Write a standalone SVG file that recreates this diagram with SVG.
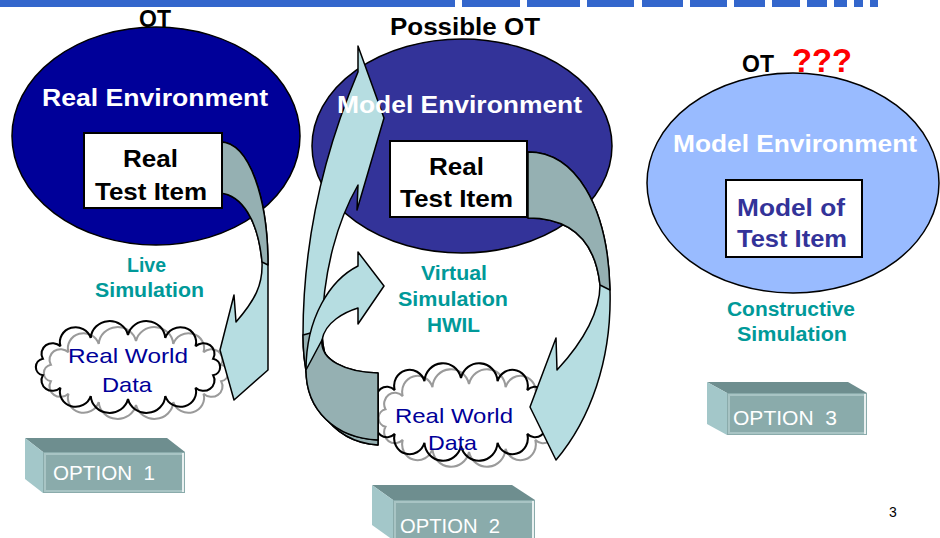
<svg xmlns="http://www.w3.org/2000/svg" width="940" height="538" viewBox="0 0 940 538">
<defs>
<style>
text{font-family:"Liberation Sans",Arial,sans-serif}
.env{fill:#fff;font-size:24px;font-weight:bold}
.ot{fill:#000;font-size:23px;font-weight:bold}
.box{fill:#fff;stroke:#000;stroke-width:2}
.bt{fill:#000;font-size:24px;font-weight:bold}
.bt3{fill:#333399;font-size:24px;font-weight:bold}
.sim{fill:#009999;font-size:20px;font-weight:bold}
.rw{fill:#000099;font-size:21px}
.opt{fill:#fff;font-size:20px;white-space:pre}
.blue{fill:#b6dde1;stroke:#000;stroke-width:1.5;stroke-linejoin:round}
.gray{fill:#95b0b2;stroke:#000;stroke-width:1.5;stroke-linejoin:round}
.top{fill:#6e8e8f}
.side{fill:#a3c7c9}
.front{fill:#8aabab}
.frame{fill:none;stroke:#a8c4c4;stroke-width:2}
.bar{fill:#3366cc}
.cf{fill:#fff;stroke:none}
.cg{fill:none;stroke:#9a9a9a;stroke-width:2}
.ck{fill:none;stroke:#000;stroke-width:2}
</style>
<path id="cloud" d="M81.1,-8.3 A8.5,8.5 0 0 1 81.1,8.3 A10.5,10.5 0 0 1 64.3,20.6 A15,15 0 0 1 35.5,29 A18,18 0 0 1 0,32 A18,18 0 0 1 -35.5,29 A15,15 0 0 1 -64.3,20.6 A10.5,10.5 0 0 1 -81.1,8.3 A8.5,8.5 0 0 1 -81.1,-8.3 A10.5,10.5 0 0 1 -64.3,-20.6 A15,15 0 0 1 -35.5,-29 A18,18 0 0 1 0,-32 A18,18 0 0 1 35.5,-29 A15,15 0 0 1 64.3,-20.6 A10.5,10.5 0 0 1 81.1,-8.3 Z"/>
</defs>

<g id="title-bar">
<rect class="bar" x="0" y="0" width="455" height="7"/>
<rect class="bar" x="462" y="0" width="58" height="7"/>
<rect class="bar" x="527" y="0" width="53" height="7"/>
<rect class="bar" x="587" y="0" width="47" height="7"/>
<rect class="bar" x="642" y="0" width="41" height="7"/>
<rect class="bar" x="690" y="0" width="37" height="7"/>
<rect class="bar" x="734" y="0" width="31" height="7"/>
<rect class="bar" x="772" y="0" width="28" height="7"/>
<rect class="bar" x="807" y="0" width="20" height="7"/>
<rect class="bar" x="834" y="0" width="13" height="7"/>
<rect class="bar" x="854" y="0" width="9" height="7"/>
<rect class="bar" x="870" y="0" width="8" height="7"/>
</g>

<g id="env-real">
<ellipse cx="156" cy="136" rx="144" ry="109" fill="#000099" stroke="#000" stroke-width="1.5"/>
<text class="ot" x="155" y="27" text-anchor="middle">OT</text>
</g>

<g id="env-model">
<ellipse cx="462" cy="146" rx="150" ry="107" fill="#333399" stroke="#000" stroke-width="1.5"/>
<text class="ot" x="465" y="35" text-anchor="middle" textLength="150" lengthAdjust="spacingAndGlyphs">Possible OT</text>
</g>

<g id="env-model-3">
<ellipse cx="793" cy="183" rx="146" ry="110" fill="#99bbff" stroke="#000" stroke-width="1.5"/>
<text class="ot" x="742" y="72">OT</text>
<text x="792" y="72" fill="#ff0000" font-size="33" font-weight="bold" textLength="60" lengthAdjust="spacingAndGlyphs">???</text>
<text class="env" x="673" y="152" textLength="244" lengthAdjust="spacingAndGlyphs">Model Environment</text>
</g>

<g id="cloud-1">
<use href="#cloud" class="cf" transform="translate(128,367) scale(1.05,1.0)"/>
<use href="#cloud" class="cf" transform="translate(136,373) scale(1.05,1.0)"/>
<use href="#cloud" class="cg" transform="translate(136,373) scale(1.05,1.0)"/>
<use href="#cloud" class="ck" transform="translate(128,367) scale(1.05,1.0)"/>
<text class="rw" x="68" y="363" textLength="120" lengthAdjust="spacingAndGlyphs">Real World</text>
<text class="rw" x="102" y="392" textLength="50" lengthAdjust="spacingAndGlyphs">Data</text>
</g>

<g id="cloud-2">
<use href="#cloud" class="cf" transform="translate(461,412) scale(1.03,1.06)"/>
<use href="#cloud" class="cf" transform="translate(469,418) scale(1.03,1.06)"/>
<use href="#cloud" class="cg" transform="translate(469,418) scale(1.03,1.06)"/>
<use href="#cloud" class="ck" transform="translate(461,412) scale(1.03,1.06)"/>
</g>

<g id="connectors">
<path class="blue" d="M220,142 C250,142 268,200 268,265 L268,370 L234,400 L220,350 L234,295 L236,322 C255,300 263,285 262,262 C258,220 242,195 220,193 Z"/>
<path class="gray" d="M220,142 C250,142 268,200 268,265 L262,262 C258,220 242,195 220,193 Z"/>
<path class="blue" d="M358,72 L358,46 L384,118 L357,210 L358,185 C338,220 323,270 322,330 C322,372 345,392 378,395 L378,445 C330,442 303,400 303,335 C303,240 325,150 358,72 Z"/>
<path class="gray" d="M322,330 C322,372 345,392 378,395 L378,445 C330,442 303,400 303,335 Z"/>
<path class="blue" d="M358,266 L358,252 L384,286 L358,324 L358,308 C345,312 325,322 322,340 C320,360 345,372 378,373 L378,440 C335,438 306,410 306,370 C306,318 330,280 358,266 Z"/>
<path class="gray" d="M322,340 C320,360 345,372 378,373 L378,440 C335,438 306,410 306,370 Z"/>
<path class="blue" d="M528,152 C575,152 608,205 610,290 C612,360 590,420 556,460 L530,407 L556,338 L557,370 C585,340 600,310 600,285 C595,240 570,218 528,218 Z"/>
<path class="gray" d="M528,152 C575,152 608,205 610,290 L600,285 C595,240 570,218 528,218 Z"/>
</g>

<g id="labels">
<text class="env" x="42" y="106" textLength="226" lengthAdjust="spacingAndGlyphs">Real Environment</text>
<text class="env" x="337" y="113" textLength="245" lengthAdjust="spacingAndGlyphs">Model Environment</text>
<text class="sim" x="127" y="272" textLength="39" lengthAdjust="spacingAndGlyphs">Live</text>
<text class="sim" x="95" y="297" textLength="109" lengthAdjust="spacingAndGlyphs">Simulation</text>
<text class="sim" x="421" y="280" textLength="66" lengthAdjust="spacingAndGlyphs">Virtual</text>
<text class="sim" x="398" y="306" textLength="110" lengthAdjust="spacingAndGlyphs">Simulation</text>
<text class="sim" x="427" y="332" textLength="53" lengthAdjust="spacingAndGlyphs">HWIL</text>
<text class="sim" x="727" y="316" textLength="128" lengthAdjust="spacingAndGlyphs">Constructive</text>
<text class="sim" x="737" y="341" textLength="110" lengthAdjust="spacingAndGlyphs">Simulation</text>
<text class="rw" x="395" y="423" textLength="118" lengthAdjust="spacingAndGlyphs">Real World</text>
<text class="rw" x="428" y="450" textLength="49" lengthAdjust="spacingAndGlyphs">Data</text>
<text x="893" y="517" font-size="14" fill="#000" text-anchor="middle">3</text>
</g>

<g id="item-real-1">
<rect class="box" x="84" y="133" width="138" height="75"/>
<text class="bt" x="123" y="167" textLength="55" lengthAdjust="spacingAndGlyphs">Real</text>
<text class="bt" x="95" y="200" textLength="112" lengthAdjust="spacingAndGlyphs">Test Item</text>
</g>

<g id="item-real-2">
<rect class="box" x="390" y="141" width="137" height="76"/>
<text class="bt" x="429" y="175" textLength="55" lengthAdjust="spacingAndGlyphs">Real</text>
<text class="bt" x="400" y="207" textLength="113" lengthAdjust="spacingAndGlyphs">Test Item</text>
</g>

<g id="item-model-3">
<rect class="box" x="726" y="180" width="136" height="77"/>
<text class="bt3" x="737" y="216" textLength="108" lengthAdjust="spacingAndGlyphs">Model of</text>
<text class="bt3" x="737" y="247" textLength="110" lengthAdjust="spacingAndGlyphs">Test Item</text>
</g>

<g id="option-1">
<polygon class="top" points="25,438 167,438 185,452 43,452"/>
<polygon class="side" points="25,438 43,452 43,493 25,479"/>
<rect class="front" x="43" y="452" width="142" height="41"/>
<rect class="frame" x="45" y="454" width="138" height="37"/>
<line x1="183" y1="453" x2="183" y2="492" stroke="#fff" stroke-width="1.5"/>
<text class="opt" x="53" y="480" textLength="102" lengthAdjust="spacingAndGlyphs">OPTION  1</text>
</g>

<g id="option-2">
<polygon class="top" points="372,485 512,485 535,500 393,500"/>
<polygon class="side" points="372,485 393,500 393,540 372,525"/>
<rect class="front" x="393" y="500" width="142" height="40"/>
<rect class="frame" x="395" y="502" width="138" height="40"/>
<line x1="533" y1="501" x2="533" y2="538" stroke="#fff" stroke-width="1.5"/>
<text class="opt" x="400" y="533" textLength="100" lengthAdjust="spacingAndGlyphs">OPTION  2</text>
</g>

<g id="option-3">
<polygon class="top" points="707,382 848,382 867,393 727,393"/>
<polygon class="side" points="707,382 727,393 727,435 707,424"/>
<rect class="front" x="727" y="393" width="140" height="42"/>
<rect class="frame" x="729" y="395" width="136" height="38"/>
<line x1="865" y1="394" x2="865" y2="434" stroke="#fff" stroke-width="1.5"/>
<text class="opt" x="733" y="425" textLength="104" lengthAdjust="spacingAndGlyphs">OPTION  3</text>
</g>
</svg>
